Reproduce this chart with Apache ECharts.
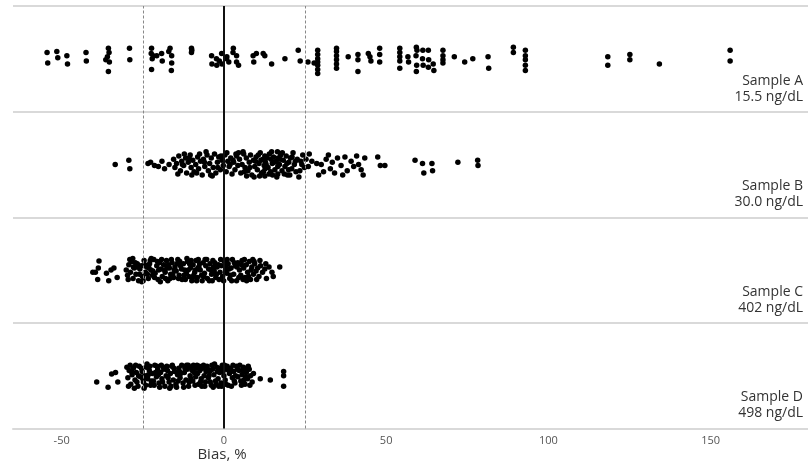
<!DOCTYPE html>
<html>
<head>
<meta charset="utf-8">
<script src="https://cdn.jsdelivr.net/npm/echarts@6/dist/echarts.min.js"></script>
<style>html,body{margin:0;padding:0;background:#fff;}#c{width:808px;height:468px;}</style>
</head>
<body>
<div id="c"></div>
<script>
// x tick labels
var xTicks = [-50, 0, 50, 100, 150];
var refLines = [-25, 0, 25];
var sampleNames = ['Sample A', 'Sample B', 'Sample C', 'Sample D'];
var sampleConc = ['15.5 ng/dL', '30.0 ng/dL', '402 ng/dL', '498 ng/dL'];
// [bias %, vertical jitter within panel (panel height = 1)]
var sampleA = [
[-54.5,.06],[-54.3,-.04],[-51.5,.07],[-51.2,.01],[-48.4,.03],[-48.2,-.05],[-42.5,.06],[-42.4,-.02],
[-35.6,.1],[-35.4,.06],[-35.9,.02],[-36.4,-.01],[-35.3,-.03],[-35.6,-.12],[-29.1,.1],[-29.0,-.01],
[-22.3,.1],[-22.4,.05],[-22.1,0],[-22.3,-.1],[-21.8,.03],[-20.7,.03],[-19.2,.05],[-19.0,-.02],
[-17.0,.07],[-16.6,.1],[-16.1,.03],[-16.1,-.04],[-16.2,-.11],[-10.0,.1],[-10.0,.06],[-9.9,.08],
[-3.8,.03],[-3.7,-.05],[-2.3,0],[-2.2,-.06],[-1.4,-.02],[-0.7,.05],[-0.6,-.05],[0.8,0],[0.9,.02],[1.5,-.03],
[2.9,.1],[2.8,.06],[3.9,-.03],[3.9,.03],[4.5,-.06],[9.0,.03],[9.2,-.03],[10.0,.05],[12.1,.05],[12.6,.03],
[14.7,-.05],[18.8,0],[22.9,.08],[23.5,-.02],[25.9,-.03],[27.8,-.04],
[28.9,.08],[28.9,.04],[28.9,0],[28.9,-.03],[28.9,-.06],[28.9,-.1],[28.9,-.14],
[34.7,.1],[34.7,.07],[34.7,.03],[34.7,-.01],[34.7,-.05],[34.7,-.09],[38.3,.02],
[41.3,.04],[41.3,-.01],[41.3,-.12],[44.5,.05],[45.0,.02],[45.3,-.02],[48.0,.1],[48.0,.04],[48.0,-.03],
[54.2,.1],[54.2,.06],[54.2,.02],[54.2,-.02],[54.2,-.09],[56.7,.02],[56.9,-.03],
[59.3,.11],[59.5,.08],[59.2,.03],[59.4,-.06],[59.3,-.12],[61.3,.08],[61.2,0],[61.4,-.06],
[63.0,.08],[63.1,-.01],[63.0,-.08],[64.5,-.05],[64.7,-.11],[67.5,.08],[67.5,.03],[67.5,-.01],[67.5,-.04],
[71.0,.02],[74.2,-.03],[76.7,0],[81.4,.02],[81.6,-.09],[89.2,.11],[89.2,.06],
[92.9,.08],[92.9,.03],[92.9,-.01],[92.9,-.06],[92.9,-.11],[118.3,.02],[118.3,-.06],[125.1,.04],[125.1,-.01],
[134.2,-.05],[156.0,.08],[156.0,-.02]
];
var sampleB = [
[-33.5,0],[-29.3,.04],[-29.0,-.04],[-23.4,.01],[-22.6,.02],[-21.4,-.01],[-20.2,-.02],[-19.1,.03],[-18.3,-.04],[-16.9,0],
[-15.5,.05],[-15.1,-.03],[-14.6,.01],[-13.9,.08],[-13.4,-.06],[-13.0,.03],[-12.4,-.01],[-11.8,.06],[-11.5,-.08],[-11.0,.02],
[-10.4,.09],[-10.1,-.03],[-9.6,.04],[-9.2,-.07],[-8.7,0],[-8.1,.07],[-7.8,-.04],[-7.2,.03],[-6.7,-.1],[-6.3,.05],
[-5.9,-.02],[-5.2,.09],[-4.8,-.06],[-4.4,.01],[-3.9,.06],[-3.3,-.03],[-2.9,.1],[-2.5,-.08],[-2.0,.02],[-1.6,.07],
[-1.1,-.05],[-0.6,.04],[-0.2,-.01],[0.3,.09],[0.7,-.07],[1.2,.03],[1.6,-.02],[2.1,.06],[2.5,-.09],[-12.2,.1],
[-9.9,-.1],[-5.5,.12],[-3.6,-.11],[0.9,.11],[-7.5,.1],
[3.0,.02],[3.4,-.05],[3.9,.08],[4.3,-.01],[4.8,.05],[5.2,-.08],[5.6,0],[6.1,.1],[6.5,-.03],[6.9,.06],
[7.4,-.06],[7.8,.02],[8.2,.09],[8.6,-.1],[9.1,.04],[9.5,-.02],[9.9,.07],[10.3,-.05],[10.8,.01],[11.2,.11],
[11.6,-.08],[12.0,.05],[12.4,-.01],[12.6,.08],[12.7,-.04],[12.8,.02],[12.6,-.11],[13.2,.06],[13.6,-.03],[14.0,.1],
[14.4,-.07],[14.9,.01],[15.3,.07],[15.7,-.05],[16.1,.03],[16.5,.12],[16.6,-.02],[16.7,.06],[16.6,-.09],[17.1,0],
[17.5,.09],[17.9,-.06],[18.3,.04],[18.8,-.02],[19.2,.08],[19.6,-.1],[20.0,.02],[20.5,.06],[20.9,-.04],[21.3,.11],
[21.7,0],[22.2,-.07],[22.6,.05],[23.1,-.12],[23.7,.03],[24.3,.09],[24.8,-.03],[5.9,.12],[9.3,-.12],[14.7,.12],
[11.0,-.11],[18.0,.11],[7.0,-.11],[3.7,.1],[15.0,-.1],[19.9,-.05],
[-14.2,-.09],[-12.8,0],[-10.7,.06],[-8.4,-.08],[-6.0,.02],[-4.1,-.1],[-1.9,-.03],[-0.9,.08],[1.9,0],[2.8,.04],
[4.5,.11],[6.3,-.07],[8.0,-.03],[9.7,.03],[10.6,.09],[11.4,.04],[12.2,-.07],[13.0,0],[13.9,-.09],[14.5,.05],
[15.5,.02],[16.3,-.12],[17.3,.05],[18.6,-.09],[19.4,.01],[20.3,-.1],[21.0,.07],[22.0,.03],[23.4,-.06],[24.0,0],
[25.3,.05],[26.0,-.02],
[26.3,.1],[27.1,.03],[28.6,.01],[29.2,-.1],[30.0,0],[31.5,.05],[32.2,.09],[32.8,-.04],[33.4,.02],[34.1,-.08],
[35.0,.06],[36.1,-.01],[37.3,.07],[38.0,-.06],[39.2,.03],[40.0,-.02],[40.9,.08],[41.5,0],[42.3,-.05],[43.4,.06],
[42.9,-.1],[36.6,-.1],[30.7,-.07],
[47.4,.07],[48.2,-.01],[49.6,-.01],[58.9,.04],[61.2,.01],[61.6,-.08],[64.1,.01],[64.3,-.06],[72.1,.02],[78.2,.04],[78.3,-.01]
];
var sampleC = [
[-40.4,-.02],[-39.6,-.02],[-38.9,-.09],[-38.5,.085],[-38.7,.02],[-36.2,-.03],[-35.5,-.1],[-34.8,0],[-33.9,.02],[-32.9,-.07],
[-30.1,0],[-29.7,-.05],[-29.3,.05],[-28.8,-.02],[-28.4,.08],[-28.0,-.08],[-27.6,.02],[-27.1,-.04],[-26.7,.06],[-26.3,-.1],
[-25.9,.01],[-25.5,.04],[-25.1,-.06],[-24.6,.09],[-24.2,-.02],[-23.8,.03],[-23.3,-.08],[-22.9,.06],[-22.5,0],[-22.0,-.05],
[-21.6,.1],[-21.2,-.03],[-20.7,.04],[-20.3,-.09],[-19.9,.07],[-19.4,.01],[-19.0,-.06],[-18.6,.05],[-18.1,-.02],[-17.7,.09],
[-17.3,-.1],[-16.8,.02],[-16.4,-.04],[-16.0,.07],[-15.5,-.07],[-15.1,.03],[-14.7,-.01],[-14.2,.1],[-13.8,-.05],[-13.4,.04],
[-12.9,-.09],[-12.5,.06],[-12.1,0],[-11.6,-.03],[-11.2,.08],[-10.8,-.06],[-10.3,.02],[-9.9,-.1],[-9.5,.05],[-9.0,-.02],
[-8.6,.09],[-8.2,-.07],[-7.7,.03],[-7.3,0],[-6.9,-.05],[-6.4,.07],[-6.0,-.03],[-5.6,.04],[-5.1,-.08],[-4.7,.01],
[-4.3,.06],[-3.8,-.04],[-3.4,.09],[-3.0,-.01],[-2.5,-.07],[-2.1,.03],[-1.7,.05],[-1.2,-.02],
[-29.0,.1],[-27.9,.03],[-26.0,-.04],[-24.9,-.1],[-23.1,.02],[-21.9,-.01],[-20.5,.08],[-19.6,-.11],[-18.3,0],[-17.1,.05],
[-15.8,-.04],[-14.5,.06],[-13.1,.01],[-11.9,-.09],[-10.6,.06],[-9.3,-.05],[-8.0,.02],[-6.7,-.1],[-5.3,.1],[-4.0,0],
[-2.8,.07],[-1.5,-.09],[-22.4,.11],[-16.6,-.08],[-11.4,.11],[-7.9,.1],[-3.6,-.1],
[-29.5,-.09],[-28.1,.11],[-27.3,.07],[-26.5,.03],[-25.3,-.11],[-24.4,.05],[-23.6,-.04],[-22.7,.09],[-21.4,-.07],[-20.1,0],
[-19.2,.1],[-18.0,-.08],[-17.5,.02],[-16.2,.1],[-15.3,0],[-14.0,-.08],[-13.6,.08],[-12.3,-.05],[-11.0,0],[-10.1,.09],
[-9.7,-.07],[-8.8,0],[-8.4,-.1],[-7.5,.06],[-6.2,-.06],[-5.8,.1],[-4.5,-.1],[-3.2,.03],[-2.3,-.04],[-1.0,.1],
[-0.1,-.1],[0.7,.04],[1.6,.01],[2.4,-.1],[3.2,.07],[4.6,-.07],[5.4,.05],[6.3,.1],[7.6,-.06],[8.4,0],
[9.3,.08],[10.1,-.09],[11.1,.09],
[-0.8,.04],[-0.4,-.06],[0.1,.08],[0.5,0],[0.9,-.03],[1.3,.06],[1.8,-.08],[2.2,.02],[2.6,.1],[3.0,-.04],
[3.5,.04],[3.9,-.1],[4.3,.07],[4.8,0],[5.2,-.05],[5.6,.09],[6.1,.02],[6.5,-.07],[6.9,.05],[7.3,-.02],
[7.8,.08],[8.2,-.09],[8.6,.03],[9.1,-.04],[9.5,.06],[9.9,-.01],[10.4,.02],[10.8,-.06],[11.3,.04],[11.9,-.02],
[12.6,.01],[13.1,-.08],[1.0,.1],[4.0,.03],[7.0,-.1],[2.0,-.05],[5.9,-.09],[8.9,.1],
[12.9,.06],[13.9,.03],[15.2,-.06],[14.8,-.02],[17.2,.03]
];
var sampleD = [
[-39.2,-.06],[-35.7,-.11],[-34.6,.015],[-33.4,.03],[-32.7,-.06],
[-29.6,-.02],[-29.2,.05],[-28.7,-.08],[-28.3,.01],[-27.9,.07],[-27.4,-.04],[-27.0,.03],[-26.5,-.1],[-26.1,.09],[-25.7,-.01],
[-25.2,.04],[-24.8,-.06],[-24.4,0],[-23.9,.08],[-23.5,-.03],[-23.0,.05],[-22.6,-.09],[-22.1,.02],[-21.7,-.05],[-21.3,.1],
[-20.8,-.01],[-20.4,.06],[-20.0,-.07],[-19.5,.03],[-19.1,-.03],[-18.7,.08],[-18.2,-.1],[-17.8,0],[-17.4,.05],[-16.9,-.06],
[-16.5,.02],[-16.1,.09],[-15.6,-.04],[-15.2,.04],[-14.8,-.08],[-14.3,.01],[-13.9,.07],[-13.5,-.02],[-13.0,.1],[-12.6,-.07],
[-12.2,.03],[-11.7,-.04],[-11.3,.06],[-10.9,-.1],[-10.4,0],[-10.0,.08],[-9.6,-.05],[-9.1,.03],[-8.7,-.01],[-8.3,.1],
[-7.8,-.08],[-7.4,.05],[-7.0,-.03],[-6.5,.07],[-6.1,0],[-5.7,-.06],[-5.2,.09],[-4.8,-.02],[-4.4,.04],[-3.9,-.09],
[-3.5,.06],[-3.1,.01],[-2.6,-.05],[-2.2,.08],[-1.8,-.03],[-1.3,.03],[-0.9,-.07],[-0.5,.1],[0.0,0],[0.4,-.04],
[0.8,.06],[1.3,-.09],[1.7,.02],[2.1,.07],[2.6,-.02],[3.0,.04],[3.4,-.07],[3.9,.09],[4.3,-.01],[4.7,.05],
[5.2,-.05],[5.6,.01],[6.0,.08],[6.5,-.08],[6.9,.03],[7.3,-.03],[7.8,.06],[8.2,0],[8.7,-.06],[9.1,.02],
[-28.9,.1],[-27.6,-.12],[-26.3,0],[-25.0,-.03],[-23.7,.11],[-22.4,-.05],[-21.1,.03],[-19.8,-.11],[-18.5,.06],[-17.2,-.02],
[-15.9,.1],[-14.6,-.11],[-13.3,.02],[-12.0,.07],[-10.7,-.06],[-9.4,.1],[-8.1,.02],[-6.8,-.1],[-5.5,.04],[-4.2,-.06],
[-2.9,.11],[-1.6,-.1],[-0.3,.04],[1.0,.09],[2.3,-.1],[3.6,0],[4.9,.1],[6.2,-.04],[7.5,.09],[-24.1,-.09],
[-16.3,-.1],[-11.0,.1],[-7.6,.09],[-3.3,-.11],[-20.6,.09],
[-29.9,.08],[-29.4,-.1],[-28.5,.04],[-27.2,.1],[-26.8,-.06],[-25.4,.07],[-24.6,-.12],[-23.3,.01],[-22.8,.09],[-21.5,-.09],
[-20.2,.01],[-19.3,.1],[-18.9,-.06],[-17.6,.09],[-16.7,-.12],[-15.4,.07],[-14.1,-.05],[-13.7,.04],[-12.4,-.11],[-11.5,.1],
[-10.2,-.03],[-9.8,.05],[-8.9,-.09],[-8.5,.07],[-7.2,-.06],[-6.3,.1],[-5.9,-.1],[-5.0,.06],[-4.6,0],[-3.7,.1],
[-2.4,-.08],[-2.0,.04],[-1.1,.07],[-0.7,-.1],[0.2,.1],[0.6,-.08],[1.5,.05],[2.8,.1],[3.2,-.05],[4.1,.06],
[5.4,-.09],[5.8,.05],[6.7,-.01],[7.1,.07],[8.0,-.09],
[11.2,-.03],[14.3,-.04],[18.4,.04],[18.4,0],[18.4,-.1]
];

var samples = [sampleA, sampleB, sampleC, sampleD];
var nPanels = samples.length;

var chart = echarts.init(document.getElementById('c'), null, {renderer: 'canvas'});
var FONT = '"Open Sans", "Noto Sans", sans-serif';

var series = samples.map(function (pts, i) {
  var center = nPanels - i - 0.5;
  return {
    type: 'scatter',
    name: sampleNames[i],
    symbol: 'circle',
    symbolSize: 5.5,
    itemStyle: {color: '#000', opacity: 1},
    silent: true,
    z: 3,
    data: pts.map(function (p) { return [p[0], center + p[1]]; })
  };
});
series[0].markLine = {
  silent: true,
  symbol: 'none',
  label: {show: false},
  z: 4,
  data: refLines.map(function (v) {
    return v === 0
      ? {xAxis: v, lineStyle: {color: '#111', width: 2, type: 'solid'}}
      : {xAxis: v, lineStyle: {color: '#888', width: 1, type: [3, 2]}};
  })
};

var gridTop = 6, gridBottomPx = 428.5;
var panelH = (gridBottomPx - gridTop) / nPanels;
var graphics = sampleNames.map(function (nm, i) {
  var bottom = gridTop + (i + 1) * panelH;
  return {
    type: 'text',
    right: 5,
    top: bottom - 39,
    style: {
      text: nm + '\n' + sampleConc[i],
      fontSize: 14,
      fontFamily: FONT,
      lineHeight: 16,
      fill: '#333',
      textAlign: 'right'
    }
  };
});
graphics.push({
  type: 'text',
  x: 222,
  y: 455,
  style: {
    text: 'Bias, %',
    fontSize: 15,
    fontFamily: FONT,
    fill: '#333',
    textAlign: 'center',
    textVerticalAlign: 'middle'
  }
});

chart.setOption({
  animation: false,
  backgroundColor: '#fff',
  grid: {left: 13, right: 0, top: gridTop, bottom: 468 - gridBottomPx, containLabel: false},
  xAxis: {
    type: 'value',
    min: -65,
    max: 180,
    axisLine: {show: true, lineStyle: {color: '#d9d9d9', width: 2}},
    axisTick: {show: false},
    splitLine: {show: false},
    axisLabel: {
      customValues: xTicks,
      color: '#555',
      fontSize: 11,
      fontFamily: FONT,
      margin: 7
    }
  },
  yAxis: {
    type: 'value',
    min: 0,
    max: nPanels,
    interval: 1,
    axisLine: {show: true, lineStyle: {color: '#d9d9d9', width: 2}},
    axisTick: {show: false},
    axisLabel: {show: false},
    splitLine: {show: true, lineStyle: {color: '#d9d9d9', width: 2}}
  },
  graphic: graphics,
  series: series
});
</script>
</body>
</html>
